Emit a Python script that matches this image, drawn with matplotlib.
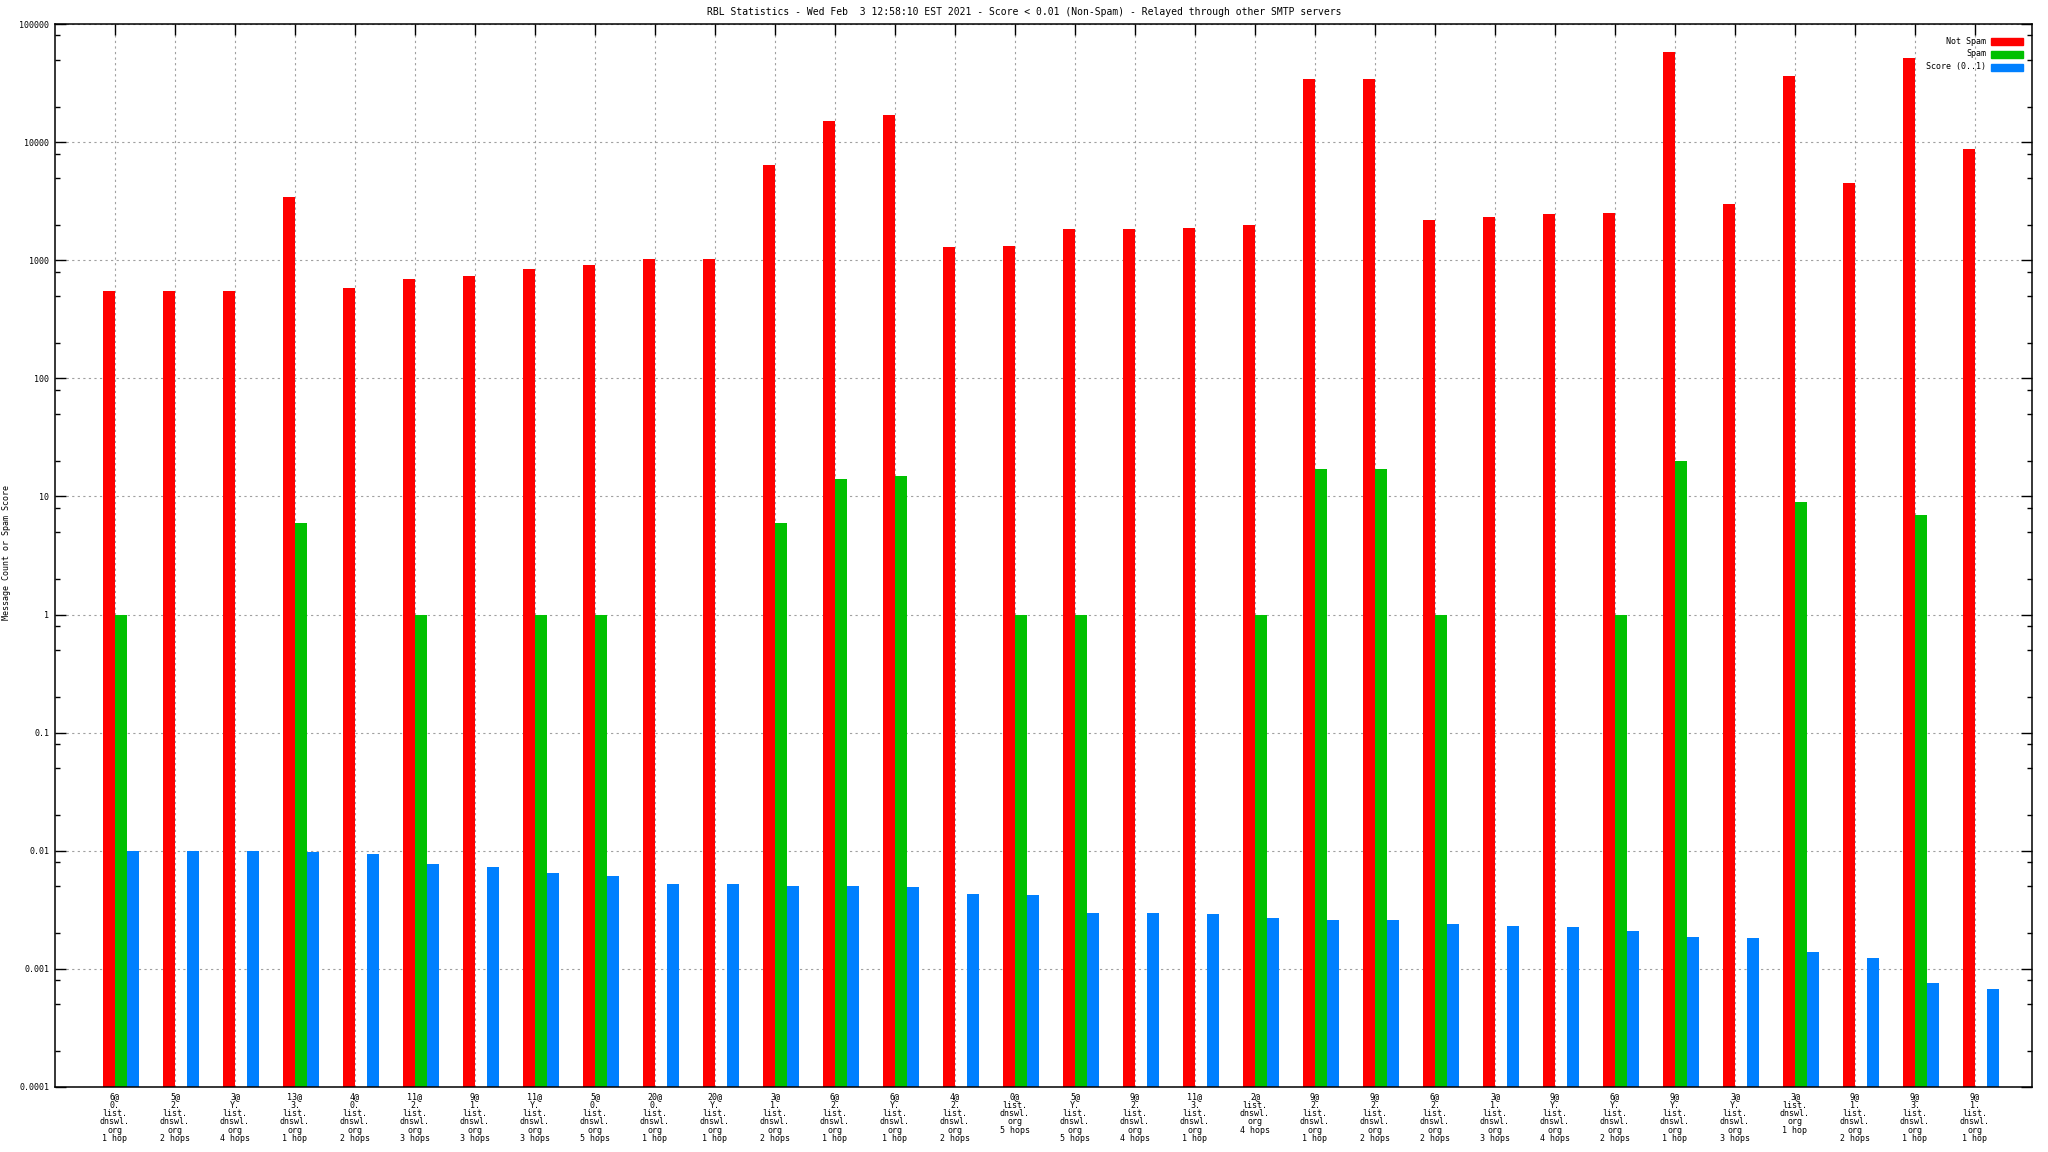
import matplotlib
matplotlib.use("Agg")
import matplotlib.pyplot as plt
from matplotlib.patches import Rectangle
from matplotlib.ticker import LogLocator, FixedLocator, NullFormatter
import numpy as np

# dados
prefixos = ["6@", "5@", "3@", "13@", "4@", "11@", "9@", "11@", "5@", "20@", "20@", "3@",
            "6@", "6@", "4@", "0@", "5@", "9@", "11@", "2@", "9@", "9@", "6@", "3@",
            "9@", "6@", "9@", "3@", "3@", "9@", "9@", "9@"]
zonas = ["0.", "2.", "Y.", "3.", "0.", "2.", "1.", "Y.", "0.", "0.", "Y.", "1.",
         "2.", "Y.", "2.", "", "Y.", "2.", "3.", "", "2.", "2.", "2.", "1.",
         "Y.", "Y.", "Y.", "Y.", "", "1.", "3.", "1."]
hops = ["1 hop", "2 hops", "4 hops", "1 hop", "2 hops", "3 hops", "3 hops", "3 hops",
        "5 hops", "1 hop", "1 hop", "2 hops", "1 hop", "1 hop", "2 hops", "5 hops",
        "5 hops", "4 hops", "1 hop", "4 hops", "1 hop", "2 hops", "2 hops", "3 hops",
        "4 hops", "2 hops", "1 hop", "3 hops", "1 hop", "2 hops", "1 hop", "1 hop"]

not_spam = [545, 545, 545, 3400, 586, 700, 736, 837, 903, 1025, 1025, 6400,
            15100, 16900, 1290, 1320, 1840, 1840, 1890, 1990, 34500, 34500, 2200, 2320,
            2440, 2500, 57400, 2990, 36300, 4500, 51800, 8700]
spam = [1, 0, 0, 6, 0, 1, 0, 1, 1, 0, 0, 6,
        14, 15, 0, 1, 1, 0, 0, 1, 17, 17, 1, 0,
        0, 1, 20, 0, 9, 0, 7, 0]
score = [0.0099, 0.0099, 0.0099, 0.0096, 0.0093, 0.0077, 0.0072, 0.0064, 0.0060, 0.0051,
         0.0051, 0.0049, 0.0049, 0.0048, 0.0042, 0.0041, 0.0029, 0.00285, 0.0028, 0.0026,
         0.0025, 0.0025, 0.0023, 0.0022, 0.00218, 0.0020, 0.00178, 0.00174, 0.00128, 0.00114,
         0.00066, 0.00058]

series = ["Not Spam", "Spam", "Score (0..1)"]
cores = ['#ff0000', '#00c000', '#0080ff']

rotulos = []
for p, z, h in zip(prefixos, zonas, hops):
    linhas = [p] + ([z] if z else []) + ["list.", "dnswl.", "org", h]
    rotulos.append("\n".join(linhas))

plt.rcParams['font.family'] = ["DejaVu Sans Mono"]

fig = plt.figure(figsize=(20.48, 11.52), dpi=100)
W, H = 2048, 1152
ax = fig.add_axes([55 / W, 1 - 1087 / H, (2032 - 55) / W, (1087 - 24) / H])

x = np.arange(len(not_spam))
larg = 0.2
spam_plot = np.array([v if v > 0 else np.nan for v in spam], dtype=float)

ax.bar(x - 0.1, not_spam, width=larg, color=cores[0], bottom=1e-4, zorder=2, linewidth=0)
ax.bar(x + 0.1, spam_plot, width=larg, color=cores[1], bottom=1e-4, zorder=2, linewidth=0)
ax.bar(x + 0.3, score, width=larg, color=cores[2], bottom=1e-4, zorder=2, linewidth=0)

ax.set_yscale('log')
ax.set_ylim(1e-4, 1e5)
ax.set_xlim(-1, 31.95)

decadas = [10.0 ** k for k in range(-4, 6)]
ax.yaxis.set_major_locator(FixedLocator(decadas))
ax.set_yticklabels(["0.0001", "0.001", "0.01", "0.1", "1", "10", "100", "1000", "10000", "100000"])
ax.yaxis.set_minor_locator(LogLocator(base=10, subs=[2, 5, 8]))
ax.yaxis.set_minor_formatter(NullFormatter())

ax.set_xticks(x)
ax.set_xticklabels(rotulos, linespacing=0.9)
ax.tick_params(axis='both', which='major', direction='in', length=8, width=1,
               top=True, right=True, labelsize=6, pad=4)
ax.tick_params(axis='x', which='major', bottom=False, pad=4)
ax.tick_params(axis='y', which='minor', direction='in', length=3.6, width=1, right=True)
ax.tick_params(axis='x', which='minor', bottom=False, top=False)

for s in ax.spines.values():
    s.set_linewidth(1.1)

# grade pontilhada
ax.grid(True, which='major', color='#a0a0a0', linestyle=(0, (2, 3)), linewidth=0.8, zorder=0)
ax.set_axisbelow(True)

fig.text(7 / W, 1 - 552 / H, "Message Count or Spam Score", rotation=90,
         ha='center', va='center', fontsize=6)

fig.text(0.5, 1 - 12 / H, "RBL Statistics - Wed Feb  3 12:58:10 EST 2021 - Score < 0.01 (Non-Spam) - Relayed through other SMTP servers",
         ha='center', va='center', fontsize=7)

# legenda desenhada a mao
for i, (nome, cor) in enumerate(zip(series, cores)):
    yy = 41 + 13 * i
    fig.patches.append(Rectangle((1991 / W, 1 - (yy + 3.5) / H), 32 / W, 7 / H,
                                 transform=fig.transFigure, color=cor, zorder=5))
    fig.text(1986 / W, 1 - yy / H, nome, ha='right', va='center', fontsize=6)

plt.savefig('out.png', dpi=100)
